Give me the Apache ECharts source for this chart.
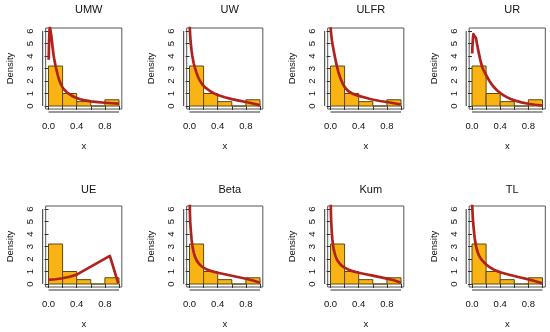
<!DOCTYPE html>
<html>
<head>
<meta charset="utf-8">
<script src="https://cdn.jsdelivr.net/npm/echarts@6/dist/echarts.min.js"></script>
<style>
html,body{margin:0;padding:0;background:#fff;}
#chart{width:550px;height:332px;}
</style>
</head>
<body>
<div id="chart"></div>
<script>
// ---- data ----
const panelNames = ['UMW', 'UW', 'ULFR', 'UR', 'UE', 'Beta', 'Kum', 'TL'];
const binEdges = [0, 0.2, 0.4, 0.6, 0.8, 1.0];
const binDensity = [3.2, 1.0, 0.35, 0, 0.5];
const xTicks = [0, 0.2, 0.4, 0.6, 0.8, 1.0];
const xTickLabels = [0, 0.4, 0.8];
const yTicks = [0, 1, 2, 3, 4, 5, 6];

const curveUMW = [[0.003,3.7],[0.006,4.6],[0.01,5.5],[0.015,6.1],[0.02,6.3],[0.025,6.3],[0.03,6.15],[0.04,5.65],[0.05,5.1],[0.06,4.6],[0.07,4.15],[0.08,3.8],[0.09,3.5],[0.1,3.2],[0.115,2.85],[0.13,2.5],[0.145,2.2],[0.16,1.95],[0.18,1.7],[0.2,1.48],[0.225,1.3],[0.25,1.15],[0.275,1.03],[0.3,0.93],[0.35,0.76],[0.4,0.64],[0.45,0.54],[0.5,0.47],[0.6,0.37],[0.7,0.31],[0.8,0.26],[0.9,0.22],[1.0,0.19]];
const curveUW = [[0.002,6.5],[0.006,6.0],[0.01,5.6],[0.015,5.2],[0.02,4.9],[0.03,4.4],[0.04,4.0],[0.05,3.7],[0.06,3.4],[0.07,3.2],[0.08,3.0],[0.1,2.65],[0.115,2.42],[0.13,2.22],[0.145,2.05],[0.16,1.9],[0.18,1.74],[0.2,1.6],[0.225,1.47],[0.25,1.36],[0.3,1.16],[0.35,1.01],[0.4,0.88],[0.5,0.7],[0.6,0.55],[0.7,0.43],[0.8,0.32],[0.9,0.2],[0.95,0.13],[1.0,0.05]];
const curveULFR = [[0.002,6.3],[0.006,6.0],[0.01,5.75],[0.02,5.25],[0.03,4.9],[0.04,4.6],[0.05,4.3],[0.06,4.0],[0.07,3.72],[0.08,3.45],[0.095,3.1],[0.11,2.75],[0.13,2.4],[0.145,2.15],[0.165,1.9],[0.185,1.66],[0.21,1.45],[0.23,1.31],[0.25,1.2],[0.275,1.1],[0.3,1.02],[0.34,0.93],[0.38,0.85],[0.44,0.75],[0.5,0.66],[0.55,0.58],[0.61,0.5],[0.7,0.4],[0.8,0.32],[0.9,0.22],[1.0,0.12]];
const curveUR = [[0.003,4.2],[0.006,4.7],[0.01,5.15],[0.015,5.5],[0.02,5.75],[0.027,5.9],[0.035,5.9],[0.045,5.72],[0.055,5.45],[0.065,5.15],[0.075,4.85],[0.085,4.55],[0.1,4.15],[0.115,3.75],[0.13,3.4],[0.145,3.12],[0.16,2.9],[0.18,2.68],[0.2,2.48],[0.225,2.22],[0.25,1.98],[0.275,1.77],[0.3,1.58],[0.35,1.28],[0.4,1.04],[0.45,0.85],[0.5,0.69],[0.55,0.56],[0.6,0.45],[0.7,0.29],[0.8,0.18],[0.9,0.1],[1.0,0.04]];
const curveUE = [[0.0,0.33],[0.1,0.38],[0.2,0.46],[0.3,0.58],[0.4,0.75],[0.87,2.25],[0.99,0.05]];
const curveBeta = [[0.003,6.6],[0.006,5.7],[0.01,5.0],[0.015,4.55],[0.02,4.2],[0.03,3.55],[0.04,3.1],[0.05,2.78],[0.06,2.52],[0.07,2.32],[0.08,2.15],[0.09,2.02],[0.105,1.85],[0.12,1.72],[0.14,1.58],[0.16,1.47],[0.18,1.37],[0.2,1.29],[0.25,1.15],[0.3,1.05],[0.35,0.97],[0.4,0.9],[0.5,0.78],[0.6,0.66],[0.7,0.54],[0.8,0.42],[0.9,0.28],[0.96,0.18],[1.0,0.1]];
const curveKum = [[0.003,6.5],[0.006,5.6],[0.01,5.0],[0.015,4.45],[0.02,4.0],[0.027,3.55],[0.035,3.15],[0.045,2.8],[0.055,2.55],[0.07,2.25],[0.085,2.03],[0.1,1.86],[0.12,1.7],[0.14,1.57],[0.17,1.42],[0.2,1.31],[0.25,1.16],[0.3,1.05],[0.35,0.97],[0.4,0.9],[0.5,0.78],[0.6,0.67],[0.7,0.55],[0.8,0.43],[0.9,0.3],[1.0,0.1]];
const curveTL = [[0.003,6.4],[0.007,5.8],[0.012,5.25],[0.018,4.8],[0.025,4.4],[0.032,3.98],[0.04,3.62],[0.05,3.25],[0.06,2.97],[0.07,2.74],[0.085,2.48],[0.1,2.27],[0.125,2.03],[0.15,1.85],[0.175,1.69],[0.2,1.56],[0.25,1.35],[0.3,1.18],[0.35,1.05],[0.4,0.94],[0.5,0.78],[0.6,0.64],[0.7,0.5],[0.8,0.37],[0.9,0.22],[1.0,0.05]];
const curves = [curveUMW, curveUW, curveULFR, curveUR, curveUE, curveBeta, curveKum, curveTL];

// ---- layout / style ----
const FONT = 'Liberation Sans, Arial, Helvetica, sans-serif';
const colZero = [48.5, 189.5, 330.5, 472];
const unitX = 70.5;
const rowTop = [28, 206];
const boxH = 81;
const barFill = '#F9B414';
const barStroke = '#5A4A12';
const curveColor = '#B0221E';
const axisColor = '#333';
const textColor = '#111';

const histData = binDensity.map((d, i) => [binEdges[i], binEdges[i + 1], d]);

const grids = [], xAxes = [], yAxes = [], series = [], titles = [];
panelNames.forEach((name, i) => {
  const c = i % 4, r = Math.floor(i / 4);
  const left = colZero[c] - 0.04 * unitX;
  const width = 1.08 * unitX;
  grids.push({
    left: left, top: rowTop[r], width: width, height: boxH,
    show: true, borderColor: '#555', borderWidth: 1, backgroundColor: 'transparent'
  });
  titles.push({
    text: name, left: left + width / 2, top: rowTop[r] - 27 - (r === 0 ? 2 : 0), textAlign: 'center',
    textStyle: { fontFamily: FONT, fontSize: 11, fontWeight: 'normal', color: textColor }
  });
  xAxes.push({
    gridIndex: i, type: 'value', min: -0.04, max: 1.04, offset: 3,
    name: 'x', nameLocation: 'middle', nameGap: 29,
    nameTextStyle: { fontFamily: FONT, fontSize: 9.5, color: textColor },
    axisLine: { show: false },
    axisTick: { show: true, length: 4, customValues: xTicks, lineStyle: { color: axisColor, width: 1 } },
    axisLabel: { customValues: xTickLabels, margin: 9, fontFamily: FONT, fontSize: 9.5, color: textColor,
      formatter: v => v.toFixed(1) },
    splitLine: { show: false }
  });
  yAxes.push({
    gridIndex: i, type: 'value', min: -0.24, max: 6.24, offset: 3,
    name: 'Density', nameLocation: 'middle', nameGap: 27, nameRotate: 90,
    nameTextStyle: { fontFamily: FONT, fontSize: 9.5, color: textColor },
    axisLine: { show: false },
    axisTick: { show: true, length: 4, customValues: yTicks, lineStyle: { color: axisColor, width: 1 } },
    axisLabel: { customValues: yTicks, margin: 7, rotate: 90, fontFamily: FONT, fontSize: 9.5, color: textColor },
    splitLine: { show: false }
  });
  // histogram bars
  series.push({
    type: 'custom', xAxisIndex: i, yAxisIndex: i, data: histData, silent: true,
    renderItem: function (params, api) {
      const p0 = api.coord([api.value(0), api.value(2)]);
      const p1 = api.coord([api.value(1), 0]);
      return {
        type: 'rect',
        shape: { x: p0[0], y: p0[1], width: p1[0] - p0[0], height: p1[1] - p0[1] },
        style: { fill: barFill, stroke: barStroke, lineWidth: 1 }
      };
    }
  });
  // R-style detached axis lines (from first to last tick)
  series.push({
    type: 'custom', xAxisIndex: i, yAxisIndex: i, data: [[0]], silent: true,
    renderItem: function (params, api) {
      const cs = params.coordSys;
      const a = api.coord([xTicks[0], yTicks[0]]);
      const b = api.coord([xTicks[xTicks.length - 1], yTicks[yTicks.length - 1]]);
      const yb = cs.y + cs.height + 3;
      const xl = cs.x - 3;
      return {
        type: 'group',
        children: [
          { type: 'line', shape: { x1: a[0], y1: yb, x2: b[0], y2: yb }, style: { stroke: axisColor, lineWidth: 1 } },
          { type: 'line', shape: { x1: xl, y1: a[1], x2: xl, y2: b[1] }, style: { stroke: axisColor, lineWidth: 1 } }
        ]
      };
    }
  });
  // fitted density curve
  series.push({
    type: 'line', xAxisIndex: i, yAxisIndex: i, data: curves[i], showSymbol: false,
    smooth: false, clip: true, silent: true,
    lineStyle: { color: curveColor, width: 2.7, join: 'round' }
  });
});

const chart = echarts.init(document.getElementById('chart'), null, { renderer: 'canvas' });
chart.setOption({
  animation: false,
  backgroundColor: '#fff',
  title: titles,
  grid: grids,
  xAxis: xAxes,
  yAxis: yAxes,
  series: series
});
</script>
</body>
</html>
